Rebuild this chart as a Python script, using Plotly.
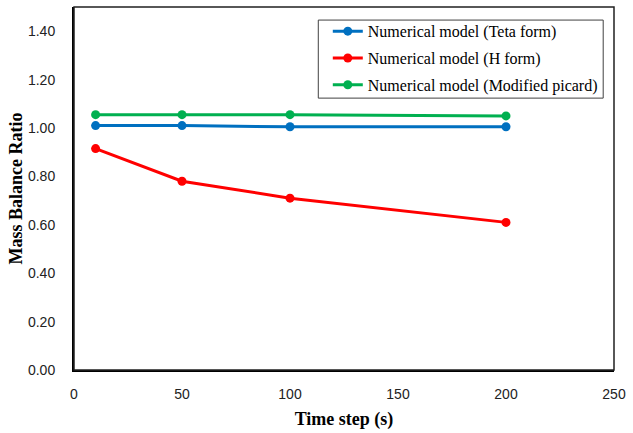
import plotly.graph_objects as go

# Time step values (s) and mass balance ratios for each formulation
time_step = [10, 50, 100, 200]
teta_form = [1.01, 1.01, 1.005, 1.005]
h_form = [0.915, 0.78, 0.71, 0.61]
modified_picard = [1.055, 1.055, 1.055, 1.05]

series_names = [
    "Numerical model (Teta form)",
    "Numerical model (H form)",
    "Numerical model (Modified picard)",
]
series_colors = ["#0070C0", "#FF0000", "#00B050"]
series_values = [teta_form, h_form, modified_picard]

y_ticks = [0.0, 0.2, 0.4, 0.6, 0.8, 1.0, 1.2, 1.4]
x_ticks = [0, 50, 100, 150, 200, 250]

fig = go.Figure()
for i, (name, color, vals) in enumerate(zip(series_names, series_colors, series_values)):
    fig.add_trace(go.Scatter(
        x=time_step, y=vals, name=name, mode="lines+markers",
        line=dict(color=color, width=3),
        marker=dict(color=color, size=9),
        legendgroup=f"g{i}",
    ))

fig.update_layout(
    width=633, height=433,
    margin=dict(l=74, r=13, t=7, b=63),
    paper_bgcolor="white", plot_bgcolor="white",
    showlegend=True,
    legend=dict(
        x=0.470, y=0.980, xanchor="left", yanchor="top",
        borderwidth=0, bgcolor="rgba(0,0,0,0)",
        font=dict(family="Liberation Serif", size=16, color="black"),
        tracegroupgap=3,
    ),
    xaxis=dict(
        range=[0, 250], tickvals=x_ticks, ticktext=[str(v) for v in x_ticks],
        showgrid=False, zeroline=False,
        showline=True, linecolor="black", linewidth=2,
        ticks="", ticklen=0, ticklabelstandoff=10,
        tickfont=dict(family="Liberation Sans", size=14, color="#222"),
        title=dict(text="<b>Time step (s)</b>", standoff=12,
                   font=dict(family="Liberation Serif", size=18, color="black")),
    ),
    yaxis=dict(
        range=[0, 1.5], tickvals=y_ticks, ticktext=[f"{v:.2f}" for v in y_ticks],
        showgrid=False, zeroline=False,
        showline=True, linecolor="black", linewidth=2,
        ticks="", ticklen=0, ticklabelstandoff=14,
        tickfont=dict(family="Liberation Sans", size=14, color="#222"),
        title=dict(text="<b>Mass Balance Ratio</b>", standoff=1,
                   font=dict(family="Liberation Serif", size=18, color="black")),
    ),
)

# Legend frame
fig.add_shape(type="rect", xref="paper", yref="paper",
              x0=0.4524, x1=0.98, y0=0.749, y1=0.964,
              line=dict(color="#404040", width=1), fillcolor="white", layer="below")

# Thin frame around the plot area
fig.add_shape(type="rect", xref="paper", yref="paper", x0=0, y0=0, x1=1, y1=1,
              line=dict(color="#202020", width=1.5), layer="above")

fig.write_html("out.html")
